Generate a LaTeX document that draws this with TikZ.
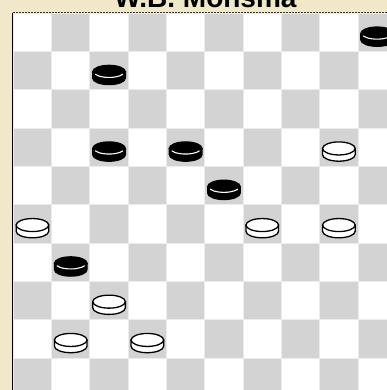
\documentclass[tikz,border=0pt]{standalone}
\usepackage{fontspec}
\setmainfont{Liberation Sans}
\definecolor{bgbeige}{RGB}{240,232,200}
\definecolor{darksq}{RGB}{211,211,211}
\definecolor{gridln}{RGB}{236,236,236}
\tikzset{
  pieceline/.style={line width=1.3pt},
  wpiece/.pic={
    \filldraw[pieceline,fill=white] (-16.3,1.1) -- (-16.3,7.35) arc (180:0:16.3 and 6.5) -- (16.3,1.1) -- cycle;
    \filldraw[pieceline,fill=white] (0,1.1) ellipse (16.3 and 6.5);
  },
  bpiece/.pic={
    \filldraw[pieceline,fill=black] (-16.3,1.1) -- (-16.3,7.35) arc (180:0:16.3 and 6.5) -- (16.3,1.1) -- cycle;
    \filldraw[pieceline,fill=black] (0,1.1) ellipse (16.3 and 6.5);
    \draw[white,line width=1.1pt] (0,1.1) ++(155:15.3 and 5.6) arc (155:25:15.3 and 5.6);
  }
}
\begin{document}
\begin{tikzpicture}[x=1pt,y=-1pt]
\useasboundingbox (0,0) rectangle (387,390);
\clip (0,0) rectangle (387,390);
\fill[bgbeige] (0,0) rectangle (387,390);
\def\sq{38.3}
\def\ox{13.3}
\def\oy{13.3}
% board
\fill[gridln] (\ox,\oy) rectangle ++(10*\sq,10*\sq);
\foreach \r in {1,...,10}{
  \foreach \c in {1,...,10}{
    \pgfmathtruncatemacro{\sqpar}{mod(\r+\c,2)}
    \ifnum\sqpar=1
      \fill[darksq] ({\ox+(\c-1)*\sq+0.5},{\oy+(\r-1)*\sq+0.5}) rectangle ++(\sq-1,\sq-1);
    \else
      \fill[white] ({\ox+(\c-1)*\sq+0.5},{\oy+(\r-1)*\sq+0.5}) rectangle ++(\sq-1,\sq-1);
    \fi
  }
}
% borders
\draw[black,line width=1.4pt] (12.6,12.6) -- (12.6,390);
\draw[black!80,line width=1pt,dash pattern=on 2pt off 1pt] (12.6,12.8) -- (387,12.8);
% pieces
\foreach \r/\c in {1/10,2/3,4/3,4/5,5/6,7/2}{
  \pic at ({\ox+(\c-0.5)*\sq},{\oy+(\r-0.5)*\sq}) {bpiece};
}
\foreach \r/\c in {4/9,6/1,6/7,6/9,8/3,9/2,9/4}{
  \pic at ({\ox+(\c-0.5)*\sq},{\oy+(\r-0.5)*\sq}) {wpiece};
}
% title
\node[anchor=base,inner sep=0pt,font=\fontsize{28}{30}\selectfont\bfseries] (title) at (205.5,7.5) {W.B. Monsma};
\end{tikzpicture}
\end{document}
